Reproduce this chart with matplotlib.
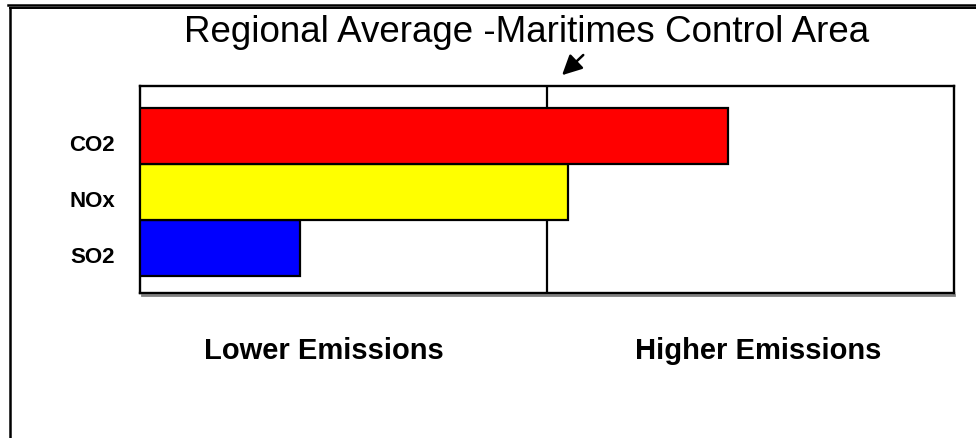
import matplotlib
matplotlib.use('Agg')
import matplotlib.pyplot as plt
import matplotlib.transforms as mtransforms
from matplotlib.lines import Line2D

plt.rcParams['font.family'] = ['Liberation Sans', 'DejaVu Sans']

# data: relative emissions, 1.0 = regional average (centre line)
pollutants = ['SO2', 'NOx', 'CO2']
values = [0.394, 1.052, 1.445]
colors = ['#0000ff', '#ffff00', '#ff0000']
regional_avg = 1.0
x_max = 2.0
title = 'Regional Average -Maritimes Control Area'
side_labels = ['Lower Emissions', 'Higher Emissions']

W, H = 976, 439
fig = plt.figure(figsize=(W / 100, H / 100), dpi=100)


def fx(px):
    return px / W


def fy(py):
    return 1 - py / H


# frame lines round the picture
fig.add_artist(Line2D([fx(8), 1], [fy(5.5), fy(5.5)], color='black', lw=1.8))
fig.add_artist(Line2D([fx(10), 1], [fy(9), fy(9)], color='black', lw=1.4))
fig.add_artist(Line2D([fx(10), fx(10)], [fy(9), 0], color='black', lw=1.8))

ax = fig.add_axes([fx(140), fy(294), fx(954) - fx(140), fy(87) - fy(294)])

# shadow under the plot box
ax.add_artist(Line2D([0.002, 1.0], [-0.009, -0.009], transform=ax.transAxes,
                     color='#808080', lw=2, clip_on=False))

ypos = list(range(len(pollutants)))
ax.barh(ypos, values, height=1.0, color=colors, edgecolor='black',
        linewidth=1.6, zorder=3)
ax.axvline(regional_avg, color='black', lw=1.6, zorder=1)

ax.set_xlim(0, x_max)
ax.set_ylim(-0.8, len(pollutants) - 0.5 + 0.39)
ax.set_xticks([])
ax.set_yticks(ypos)
ax.set_yticklabels(pollutants, fontsize=16, fontweight='bold')
ax.tick_params(axis='y', length=0, pad=18)
offset = mtransforms.ScaledTranslation(0, -6 / 100, fig.dpi_scale_trans)
for lab in ax.get_yticklabels():
    lab.set_transform(lab.get_transform() + offset)
for sp in ax.spines.values():
    sp.set_linewidth(1.7)

fig.text(fx(527), fy(42), title, ha='center', va='baseline', fontsize=26.5)

ax.annotate('', xy=(0.516, 1.043), xytext=(0.547, 1.159),
            xycoords='axes fraction', textcoords='axes fraction',
            arrowprops=dict(arrowstyle='-|>', mutation_scale=30, lw=1.8,
                            color='black'), annotation_clip=False)

ax.text(0.226, -0.275, side_labels[0], transform=ax.transAxes, ha='center',
        va='center', fontsize=21, fontweight='bold')
ax.text(0.760, -0.275, side_labels[1], transform=ax.transAxes, ha='center',
        va='center', fontsize=21, fontweight='bold')

fig.savefig('out.png', dpi=100)
